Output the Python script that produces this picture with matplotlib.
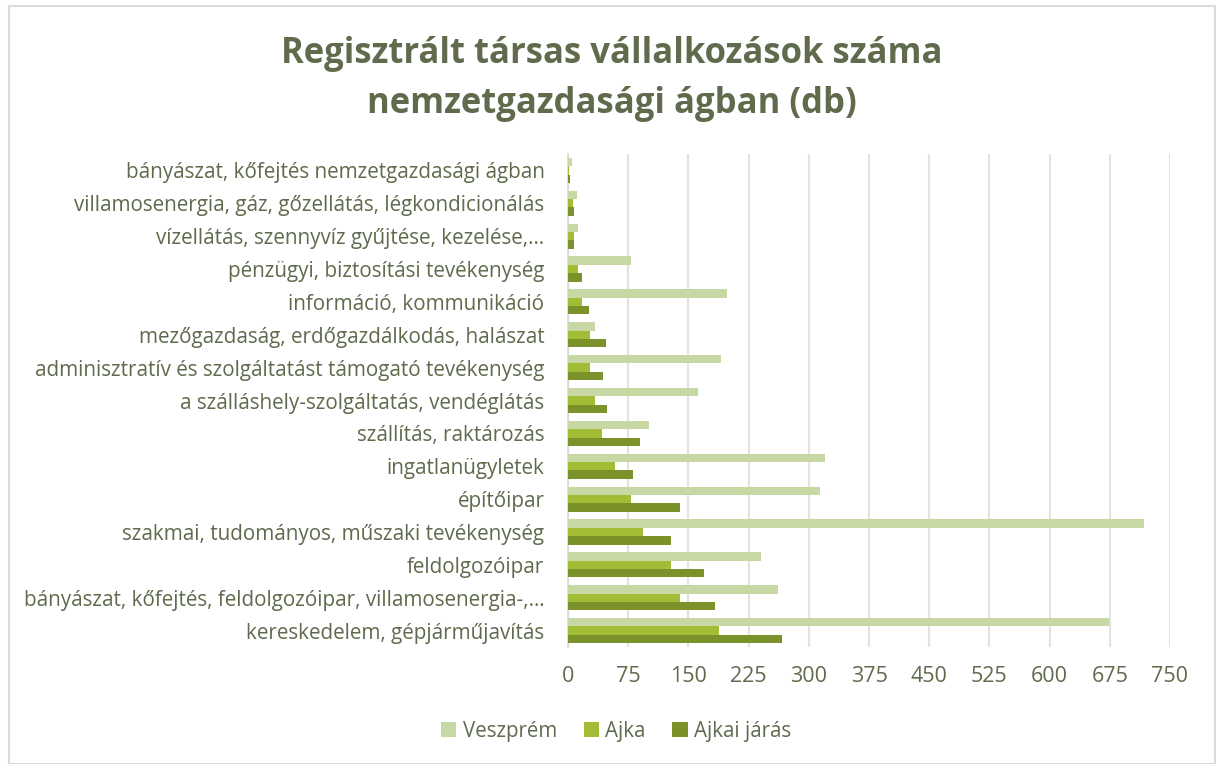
import matplotlib
matplotlib.use("Agg")
import matplotlib.pyplot as plt
import numpy as np
from matplotlib.patches import Rectangle

categories = [
    "kereskedelem, gépjárműjavítás",
    "bányászat, kőfejtés, feldolgozóipar, villamosenergia-,…",
    "feldolgozóipar",
    "szakmai, tudományos, műszaki tevékenység",
    "építőipar",
    "ingatlanügyletek",
    "szállítás, raktározás",
    "a szálláshely-szolgáltatás, vendéglátás",
    "adminisztratív és szolgáltatást támogató tevékenység",
    "mezőgazdaság, erdőgazdálkodás, halászat",
    "információ, kommunikáció",
    "pénzügyi, biztosítási tevékenység",
    "vízellátás, szennyvíz gyűjtése, kezelése,…",
    "villamosenergia, gáz, gőzellátás, légkondicionálás",
    "bányászat, kőfejtés nemzetgazdasági ágban",
]
veszprem = [674, 262, 241, 717, 314, 320, 101, 162, 190, 34, 198, 79, 12, 11, 5]
ajka = [188, 139, 128, 94, 79, 58, 42, 34, 28, 27, 17, 13, 7, 6, 1]
ajkai_jaras = [266, 183, 170, 128, 139, 81, 90, 48, 44, 47, 26, 18, 7, 7, 2]
series_names = ["Veszprém", "Ajka", "Ajkai járás"]
xticks = [0, 75, 150, 225, 300, 375, 450, 525, 600, 675, 750]
title = "Regisztrált társas vállalkozások száma\nnemzetgazdasági ágban (db)"

text_color = "#5f6b4c"
colors = ["#c8d8a5", "#a2bd35", "#7a9229"]
font = "Open Sans"

fig = plt.figure(figsize=(12.16, 7.64), dpi=100)
ax = fig.add_axes([568 / 1216, 1 - 647 / 764, (1170 - 568) / 1216, (647 - 154) / 764])

y = np.arange(len(categories))
h = 0.255
series = [veszprem, ajka, ajkai_jaras]
offsets = [h, 0, -h]
for vals, off, c, name in zip(series, offsets, colors, series_names):
    ax.barh(y + off, vals, height=h, color=c, label=name, zorder=3)

ax.set_xlim(0, 750)
ax.set_ylim(-0.5, len(categories) - 0.5)
ax.set_xticks(xticks)
ax.set_xticklabels([str(t) for t in xticks])
ax.set_yticks(y)
ax.set_yticklabels(categories)
ax.grid(axis="x", color="#e4e4de", linewidth=1.6, zorder=0)
ax.set_axisbelow(True)
for s in ["top", "right", "bottom"]:
    ax.spines[s].set_visible(False)
ax.spines["left"].set_color("#d9d9d2")
ax.spines["left"].set_linewidth(1.2)
ax.tick_params(axis="both", length=0, colors=text_color)
ax.tick_params(axis="y", pad=17)
ax.tick_params(axis="x", pad=14)
for lab in ax.get_yticklabels():
    lab.set_fontfamily(font)
    lab.set_fontsize(14.9)
    lab.set_color(text_color)
for lab in ax.get_xticklabels():
    lab.set_fontfamily(font)
    lab.set_fontsize(15.5)
    lab.set_color(text_color)

fig.text(612 / 1216, 1 - 79 / 764, title, ha="center", va="center",
         fontsize=24.9, fontweight="bold", color=text_color, family=font,
         linespacing=1.5)

handles, labels = ax.get_legend_handles_labels()
leg = fig.legend(handles, labels, loc="center", bbox_to_anchor=(616 / 1216, 1 - 731 / 764),
                 ncol=3, frameon=False, handlelength=0.75, handleheight=0.75,
                 columnspacing=1.3, handletextpad=0.3,
                 prop={"family": font, "size": 14.8})
for t in leg.get_texts():
    t.set_color(text_color)

fig.patches.append(Rectangle((9 / 1216, 0), 1 - 9 / 1216 - 0.001, 1 - 6 / 764,
                             transform=fig.transFigure, fill=False,
                             edgecolor="#dcdcd6", linewidth=1.5))

fig.savefig("out.png", dpi=100, facecolor="white")
